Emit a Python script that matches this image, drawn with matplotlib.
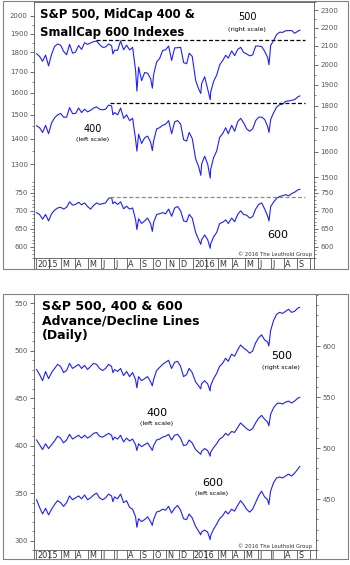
import matplotlib
matplotlib.use("Agg")
import matplotlib.pyplot as plt
import pandas as pd
from matplotlib.patches import Rectangle
from matplotlib.ticker import NullFormatter

W, H = 350, 565

DATES = [
    "2015-01-02", "2015-01-09", "2015-01-16", "2015-01-23", "2015-01-30",
    "2015-02-06", "2015-02-13", "2015-02-20", "2015-02-27",
    "2015-03-06", "2015-03-13", "2015-03-20", "2015-03-27",
    "2015-04-03", "2015-04-10", "2015-04-17", "2015-04-24",
    "2015-05-01", "2015-05-08", "2015-05-15", "2015-05-22", "2015-05-29",
    "2015-06-05", "2015-06-12", "2015-06-19", "2015-06-26", "2015-06-29",
    "2015-07-03", "2015-07-10", "2015-07-17", "2015-07-24", "2015-07-31",
    "2015-08-07", "2015-08-14", "2015-08-21", "2015-08-24", "2015-08-28",
    "2015-09-04", "2015-09-11", "2015-09-18", "2015-09-25", "2015-09-29",
    "2015-10-02", "2015-10-09", "2015-10-16", "2015-10-23", "2015-10-30",
    "2015-11-06", "2015-11-13", "2015-11-20", "2015-11-27",
    "2015-12-04", "2015-12-11", "2015-12-18", "2015-12-24", "2015-12-31",
    "2016-01-08", "2016-01-15", "2016-01-20", "2016-01-22", "2016-01-29",
    "2016-02-05", "2016-02-11", "2016-02-12", "2016-02-19", "2016-02-26",
    "2016-03-04", "2016-03-11", "2016-03-18", "2016-03-24",
    "2016-04-01", "2016-04-08", "2016-04-15", "2016-04-22", "2016-04-29",
    "2016-05-06", "2016-05-13", "2016-05-20", "2016-05-27",
    "2016-06-03", "2016-06-10", "2016-06-17", "2016-06-24", "2016-06-27",
    "2016-07-01", "2016-07-08", "2016-07-15", "2016-07-22", "2016-07-29",
    "2016-08-05", "2016-08-12", "2016-08-19", "2016-08-26",
    "2016-09-02", "2016-09-07",
]

# top panel: index levels
SPX = [
    2058, 2044, 2019, 2051, 1995,
    2055, 2097, 2110, 2104,
    2071, 2053, 2108, 2061,
    2067, 2102, 2081, 2117,
    2108, 2116, 2123, 2126, 2107,
    2092, 2094, 2110, 2101, 2057,
    2077, 2076, 2127, 2079, 2104,
    2078, 2092, 1971, 1870, 1989,
    1921, 1961, 1958, 1931, 1884,
    1951, 2015, 2033, 2075, 2079,
    2099, 2023, 2089, 2090,
    2092, 2012, 2006, 2061, 2044,
    1922, 1880, 1859, 1907, 1940,
    1880, 1829, 1865, 1918, 1948,
    2000, 2022, 2050, 2035,
    2073, 2048, 2081, 2092, 2065,
    2057, 2047, 2052, 2099,
    2099, 2096, 2071, 2037, 2001,
    2103, 2130, 2162, 2175, 2174,
    2183, 2184, 2184, 2169,
    2180, 2186,
]
MID = [
    1453, 1445, 1425, 1455, 1420,
    1465, 1487, 1500, 1506,
    1490, 1490, 1532, 1505,
    1506, 1530, 1510, 1525,
    1513, 1520, 1530, 1535, 1525,
    1522, 1525, 1543, 1540, 1500,
    1510, 1500, 1530, 1485, 1500,
    1475, 1485, 1395, 1350, 1418,
    1380, 1403, 1410, 1385, 1352,
    1390, 1440, 1445, 1455, 1460,
    1475, 1420, 1470, 1475,
    1460, 1395, 1390, 1425, 1400,
    1320, 1290, 1258, 1300, 1330,
    1300, 1248, 1280, 1325, 1350,
    1405, 1420, 1445, 1420,
    1455, 1430, 1470, 1485, 1465,
    1440, 1430, 1440, 1475,
    1490, 1490, 1480, 1450, 1425,
    1480, 1510, 1535, 1545, 1548,
    1560, 1562, 1565, 1568,
    1580, 1585,
]
SML = [
    695, 690, 677, 690, 672,
    692, 702, 708, 710,
    705, 710, 725, 716,
    718, 724, 717, 722,
    712, 705, 715, 722, 718,
    720, 722, 735, 737, 720,
    725, 718, 725, 706, 713,
    705, 708, 675, 648, 678,
    665, 672, 680, 664, 643,
    668, 690, 692, 695, 692,
    705, 685, 708, 712,
    700, 672, 670, 690, 680,
    640, 620, 607, 620, 633,
    620, 596, 608, 628, 640,
    665, 668, 675, 665,
    680, 670, 690, 700, 690,
    688, 680, 684, 705,
    718, 722, 705, 685, 672,
    712, 725, 735, 740, 742,
    745, 742, 748, 752,
    758, 760,
]

# bottom panel: advance/decline lines
AD_500 = [
    577, 572, 566, 575, 568,
    574, 578, 582, 580,
    574, 576, 583, 578,
    580, 582, 578, 581,
    577, 580, 583, 582, 578,
    576, 578, 582, 580, 574,
    577, 575, 578, 571, 575,
    570, 574, 567, 559, 570,
    566, 568, 570, 565, 561,
    567, 576, 579, 582, 584,
    586, 578, 584, 585,
    580, 570, 572, 578, 574,
    565, 561, 558, 563, 566,
    563, 556, 561, 568, 573,
    580, 583, 588, 585,
    592, 590, 596, 601, 598,
    596, 593, 595, 603,
    608, 611, 606, 604, 600,
    615, 625, 631, 633, 632,
    634, 636, 633, 634,
    637, 638,
]
AD_400 = [
    406, 401, 396, 402, 397,
    401, 405, 410, 408,
    403, 406, 412, 407,
    409, 411, 408, 411,
    408, 410, 413, 414, 410,
    409, 411, 413, 411, 406,
    409, 407, 411, 404, 408,
    405, 407, 401, 395, 402,
    399, 401, 403, 398, 395,
    400, 406, 407, 409, 410,
    412, 406, 411, 412,
    408, 400, 401, 406, 403,
    396, 393, 391, 394, 397,
    395, 389, 393, 398, 402,
    407, 409, 413, 411,
    415, 414, 419, 424, 421,
    418, 416, 418, 424,
    429, 432, 428, 425, 421,
    433, 440, 444, 445, 444,
    446, 447, 445, 447,
    450, 451,
]
AD_600 = [
    343, 335, 328, 334, 327,
    333, 338, 342, 340,
    336, 340, 347, 343,
    345, 347, 344, 348,
    343, 345, 348, 350, 345,
    343, 345, 349, 347, 341,
    346, 344, 349, 340, 342,
    335, 333, 325, 314, 323,
    320, 322, 325, 320, 316,
    322, 330, 331, 333, 332,
    336, 329, 334, 337,
    332, 323, 322, 328, 324,
    315, 310, 306, 309, 311,
    309, 301, 305, 312, 317,
    323, 326, 331, 328,
    333, 331, 337, 342, 338,
    333, 330, 333, 340,
    347, 352, 346, 343, 338,
    352, 361, 366, 367, 366,
    368, 370, 368, 371,
    375, 378,
]

# prior highs marked with dashed lines
SPX_HIGH, SPX_HIGH_DATE = 2131, "2015-05-21"
MID_HIGH, MID_HIGH_DATE = 1553, "2015-06-23"
SML_HIGH, SML_HIGH_DATE = 739, "2015-06-23"
HIGH_END_DATE = "2016-09-18"

MONTH_LABELS = ["2015", "", "M", "A", "M", "J", "J", "A", "S", "O", "N", "D",
                "2016", "", "M", "A", "M", "J", "J", "A", "S", ""]

LINE = "#1e1eff"
GREY = "#555555"
FONT = "DejaVu Sans"


def px_axes(fig, left, top, right, bottom):
    return fig.add_axes([left / W, 1 - bottom / H, (right - left) / W, (bottom - top) / H])


def ptext(fig, x, y, s, **kw):
    return fig.text(x / W, 1 - y / H, s, **kw)


def style_y(ax, major, minor, side):
    ax.set_yticks(major)
    ax.set_yticklabels([str(v) for v in major])
    ax.set_yticks(minor, minor=True)
    ax.yaxis.set_minor_formatter(NullFormatter())
    ax.tick_params(axis="y", which="major", direction="out", length=3, width=0.6,
                   color=GREY, labelsize=5, labelcolor=GREY, pad=1.5)
    ax.tick_params(axis="y", which="minor", direction="out", length=1.5, width=0.5, color=GREY)
    if side == "both":
        ax.yaxis.set_ticks_position("both")
        ax.tick_params(axis="y", which="both", left=True, right=True, labelleft=True, labelright=True)


def month_strip(fig, left, top, right, bottom, xlim):
    ax = px_axes(fig, left, top, right, bottom)
    ax.set_xlim(xlim)
    ax.set_ylim(0, 1)
    ax.set_xticks([])
    ax.set_yticks([])
    for spine in ax.spines.values():
        spine.set_color(GREY)
        spine.set_linewidth(0.6)
    starts = pd.date_range("2015-01-01", periods=len(MONTH_LABELS), freq="MS")
    for start, label in zip(starts, MONTH_LABELS):
        ax.axvline(start, color=GREY, lw=0.6)
        if label:
            ax.text(start + pd.Timedelta(days=3), 0.42, label, ha="left", va="center",
                    fontsize=5.9, color="#333333", family=FONT)
    return ax


def hide_spines(ax):
    for spine in ax.spines.values():
        spine.set_visible(False)


def main():
    dates = pd.to_datetime(DATES)
    fig = plt.figure(figsize=(W / 100, H / 100), dpi=100)

    # ---- top panel: index levels
    xlim_top = (pd.Timestamp("2014-12-27"), pd.Timestamp("2016-10-10"))
    ax400 = px_axes(fig, 34, 2, 314, 258)
    ax400.set_yscale("log")
    ax400.set_ylim(989, 2083)
    ax400.set_xlim(xlim_top)
    ax400.set_xticks([])
    ax400.set_facecolor("none")
    for spine in ax400.spines.values():
        spine.set_color(GREY)
        spine.set_linewidth(0.6)
    style_y(ax400, list(range(1300, 2001, 100)), list(range(1350, 2001, 50)), "left")

    ax500 = ax400.twinx()
    ax500.set_yscale("log")
    ax500.set_ylim(1219, 2348)
    hide_spines(ax500)
    style_y(ax500, list(range(1500, 2301, 100)), list(range(1450, 2351, 50)), "right")

    ax600 = ax400.twinx()
    ax600.set_ylim(569, 1280.6)
    hide_spines(ax600)
    style_y(ax600, [600, 650, 700, 750], list(range(570, 781, 10)), "both")

    ax500.plot(dates, SPX, color=LINE, lw=0.8)
    ax400.plot(dates, MID, color=LINE, lw=0.8)
    ax600.plot(dates, SML, color=LINE, lw=0.8)

    dash = (0, (3.2, 1.8))
    ax500.plot(pd.to_datetime([SPX_HIGH_DATE, HIGH_END_DATE]), [SPX_HIGH, SPX_HIGH],
               color="black", lw=0.9, ls=dash)
    ax400.plot(pd.to_datetime([MID_HIGH_DATE, HIGH_END_DATE]), [MID_HIGH, MID_HIGH],
               color="black", lw=0.9, ls=dash)
    ax600.plot(pd.to_datetime([SML_HIGH_DATE, HIGH_END_DATE]), [SML_HIGH, SML_HIGH],
               color="#8c8c8c", lw=0.9, ls=dash)
    ax400.set_xlim(xlim_top)

    month_strip(fig, 34, 258, 314, 269, xlim_top)
    fig.add_artist(Rectangle((2.5 / W, 1 - 269 / H), 345 / W, 267.5 / H, transform=fig.transFigure,
                             fill=False, edgecolor="#808080", lw=0.8))

    ptext(fig, 40, 18, "S&P 500, MidCap 400 &", fontsize=8.4, fontweight="bold", family=FONT)
    ptext(fig, 40, 36, "SmallCap 600 Indexes", fontsize=8.4, fontweight="bold", family=FONT)
    ptext(fig, 247.5, 17, "500", fontsize=7, ha="center", va="center", family=FONT)
    ptext(fig, 246.5, 30, "(right scale)", fontsize=4.5, ha="center", va="center", family=FONT)
    ptext(fig, 93, 129.5, "400", fontsize=7, ha="center", va="center", family=FONT)
    ptext(fig, 93, 139, "(left scale)", fontsize=4.5, ha="center", va="center", family=FONT)
    ptext(fig, 278, 234.5, "600", fontsize=8, ha="center", va="center", family=FONT)
    ptext(fig, 312, 254, "\u00a9 2016 The Leuthold Group", fontsize=3.8, ha="right", va="center",
          family=FONT, color="#333333")

    # ---- bottom panel: advance/decline lines
    xlim_bot = (pd.Timestamp("2014-12-27"), pd.Timestamp("2016-10-15"))
    axl = px_axes(fig, 34, 294, 316, 550)
    axl.set_ylim(290.5, 559.5)
    axl.set_xlim(xlim_bot)
    axl.set_xticks([])
    axl.set_facecolor("none")
    for spine in axl.spines.values():
        spine.set_color(GREY)
        spine.set_linewidth(0.6)
    style_y(axl, [300, 350, 400, 450, 500, 550], list(range(290, 561, 10)), "left")

    axr = axl.twinx()
    axr.set_ylim(400, 651)
    hide_spines(axr)
    style_y(axr, [450, 500, 550, 600], list(range(400, 651, 10)), "right")

    axr.plot(dates, AD_500, color=LINE, lw=0.8)
    axl.plot(dates, AD_400, color=LINE, lw=0.8)
    axl.plot(dates, AD_600, color=LINE, lw=0.8)
    axl.set_xlim(xlim_bot)

    month_strip(fig, 34, 550, 316, 559, xlim_bot)
    fig.add_artist(Rectangle((2.5 / W, 1 - 559 / H), 345 / W, 265 / H, transform=fig.transFigure,
                             fill=False, edgecolor="#808080", lw=0.8))

    ptext(fig, 42, 310, "S&P 500, 400 & 600", fontsize=9, fontweight="bold", family=FONT)
    ptext(fig, 42, 324.5, "Advance/Decline Lines", fontsize=9, fontweight="bold", family=FONT)
    ptext(fig, 42, 339, "(Daily)", fontsize=9, fontweight="bold", family=FONT)
    ptext(fig, 282, 356, "500", fontsize=8, ha="center", va="center", family=FONT)
    ptext(fig, 281, 367, "(right scale)", fontsize=4.5, ha="center", va="center", family=FONT)
    ptext(fig, 157, 412.5, "400", fontsize=8, ha="center", va="center", family=FONT)
    ptext(fig, 157, 423.5, "(left scale)", fontsize=4.5, ha="center", va="center", family=FONT)
    ptext(fig, 212.5, 482.5, "600", fontsize=8, ha="center", va="center", family=FONT)
    ptext(fig, 212, 493, "(left scale)", fontsize=4.5, ha="center", va="center", family=FONT)
    ptext(fig, 312, 546, "\u00a9 2016 The Leuthold Group", fontsize=3.8, ha="right", va="center",
          family=FONT, color="#333333")

    fig.savefig("out.png", dpi=100)
    plt.close(fig)


if __name__ == "__main__":
    main()
